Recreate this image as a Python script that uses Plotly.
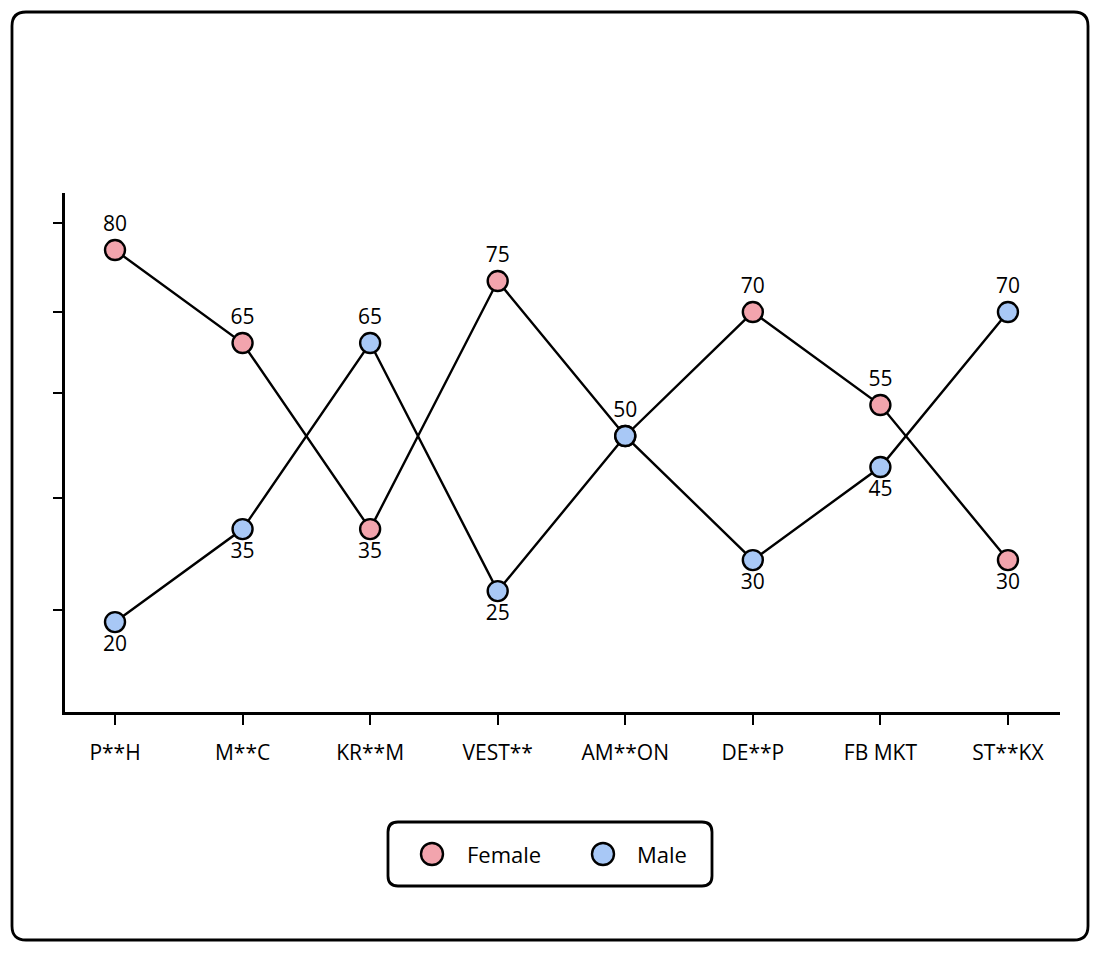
import plotly.graph_objects as go

# data
stores = ["P**H", "M**C", "KR**M", "VEST**", "AM**ON", "DE**P", "FB MKT", "ST**KX"]
female = [80, 65, 35, 75, 50, 70, 55, 30]
male = [20, 35, 65, 25, 50, 30, 45, 70]
y_ticks = [84.4, 70, 57, 40, 22]
series_names = ["Female", "Male"]

pink = "#F2A4AD"
blue = "#A8C8F6"
font_name = "Open Sans"

# the page body adds an 8px margin, so the figure is drawn at (8, 8)
OFF = 8
W, H = 1084, 938
L, R, T, B = 57, 32, 185, 234
pw, ph = W - L - R, H - T - B


def to_paper(px, py):
    # screenshot pixel -> paper coords
    return (px - OFF - L) / pw, (H - B - (py - OFF)) / ph


def rounded_box(x0, y0, x1, y1, r):
    def p(x, y):
        a, b = to_paper(x, y)
        return f"{a:.5f},{b:.5f}"
    pts = ["M" + p(x0 + r, y0),
           "L" + p(x1 - r, y0),
           "Q" + p(x1, y0) + " " + p(x1, y0 + r),
           "L" + p(x1, y1 - r),
           "Q" + p(x1, y1) + " " + p(x1 - r, y1),
           "L" + p(x0 + r, y1),
           "Q" + p(x0, y1) + " " + p(x0, y1 - r),
           "L" + p(x0, y0 + r),
           "Q" + p(x0, y0) + " " + p(x0 + r, y0)]
    return " ".join(pts) + " Z"


# label goes above the higher point, below the lower one
f_pos = ["top center" if f >= m else "bottom center" for f, m in zip(female, male)]
m_pos = ["top center" if m > f else "bottom center" for f, m in zip(female, male)]
m_text = ["" if m == f else str(m) for f, m in zip(female, male)]

fig = go.Figure()

fig.add_trace(go.Scatter(
    x=stores, y=female, mode="lines+markers+text", name=series_names[0],
    text=[str(v) for v in female], textposition=f_pos,
    textfont=dict(size=21, color="black", family=font_name),
    line=dict(color="black", width=2.4),
    marker=dict(size=20, color=pink, line=dict(color="black", width=2.4)),
    showlegend=False, cliponaxis=False))

fig.add_trace(go.Scatter(
    x=stores, y=male, mode="lines+markers+text", name=series_names[1],
    text=m_text, textposition=m_pos,
    textfont=dict(size=21, color="black", family=font_name),
    line=dict(color="black", width=2.4),
    marker=dict(size=20, color=blue, line=dict(color="black", width=2.4)),
    showlegend=False, cliponaxis=False))

# outer frame and legend box
fig.add_shape(type="path", xref="paper", yref="paper",
              path=rounded_box(12, 12, 1088, 940, 14),
              line=dict(color="black", width=2.8))
fig.add_shape(type="path", xref="paper", yref="paper",
              path=rounded_box(388, 822, 712, 886, 10),
              line=dict(color="black", width=2.8))

# hand-built legend: big circle + name
for name, col, cx, tx in [(series_names[0], pink, 432, 465),
                          (series_names[1], blue, 603, 635)]:
    ax, ay = to_paper(cx, 854)
    fig.add_shape(type="circle", xref="paper", yref="paper",
                  xsizemode="pixel", ysizemode="pixel",
                  xanchor=ax, yanchor=ay, x0=-11, x1=11, y0=-11, y1=11,
                  fillcolor=col, line=dict(color="black", width=2.4))
    tx_p, ty_p = to_paper(tx, 854)
    fig.add_annotation(x=tx_p, y=ty_p, xref="paper", yref="paper",
                       text=name, showarrow=False, xanchor="left",
                       yanchor="middle", font=dict(size=22))

fig.update_layout(
    width=W, height=H,
    margin=dict(l=L, r=R, t=T, b=B),
    paper_bgcolor="white", plot_bgcolor="white",
    font=dict(family=font_name, size=21, color="black"),
    showlegend=False,
)

fig.update_xaxes(
    range=[-0.392, 7.408], showgrid=False, zeroline=False,
    showline=True, linecolor="black", linewidth=2.8,
    ticks="outside", ticklen=10, tickwidth=2.4, tickcolor="black",
    tickfont=dict(size=21), ticklabelstandoff=10)

fig.update_yaxes(
    range=[5.5, 89.2], showgrid=False, zeroline=False,
    showline=True, linecolor="black", linewidth=2.8,
    tickvals=y_ticks, showticklabels=False,
    ticks="outside", ticklen=9, tickwidth=2.4, tickcolor="black")

fig.write_html("out.html")
